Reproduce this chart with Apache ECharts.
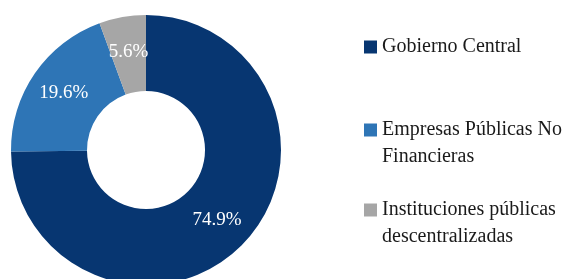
<!DOCTYPE html>
<html>
<head>
<meta charset="utf-8">
<script src="https://cdn.jsdelivr.net/npm/echarts@6/dist/echarts.min.js"></script>
<style>html,body{margin:0;padding:0;background:#fff}#c{width:565px;height:279px}</style>
</head>
<body>
<div id="c"></div>
<script>
const categories = ['Gobierno Central', 'Empresas Públicas No Financieras', 'Instituciones públicas descentralizadas'];
const legendLabels = ['Gobierno Central', 'Empresas Públicas No\nFinancieras', 'Instituciones públicas\ndescentralizadas'];
const values = [74.9, 19.6, 5.6];
const colors = ['#073671', '#2e75b6', '#a6a6a6'];

const font = '"Liberation Serif", "DejaVu Serif", serif';
const chart = echarts.init(document.getElementById('c'), null, {renderer: 'canvas'});
const legendTops = [33.5, 89.5, 169.5];
const legends = categories.map((name, i) => ({
  orient: 'vertical',
  left: 364,
  top: legendTops[i],
  padding: 0,
  icon: 'rect',
  itemWidth: 13,
  itemHeight: 13,
  selectedMode: false,
  data: [name],
  // leading blank line keeps the first text line level with the marker
  formatter: () => (legendLabels[i].indexOf('\n') >= 0 ? '\n' : '') + legendLabels[i],
  textStyle: {
    fontFamily: font,
    fontSize: 20,
    color: '#1a1a1a',
    lineHeight: 27
  }
}));

chart.setOption({
  animation: false,
  legend: legends,
  series: [{
    type: 'pie',
    center: [146, 150],
    radius: [59, 135],
    startAngle: 90,
    clockwise: true,
    avoidLabelOverlap: false,
    data: categories.map((n, i) => ({name: n, value: values[i], itemStyle: {color: colors[i]}})),
    label: {
      show: true,
      position: 'inside',
      formatter: p => p.value.toFixed(1) + '%',
      color: '#ffffff',
      fontFamily: font,
      fontSize: 19,
      textBorderWidth: 0
    },
    labelLine: {show: false},
    emphasis: {disabled: true}
  }]
});
</script>
</body>
</html>
